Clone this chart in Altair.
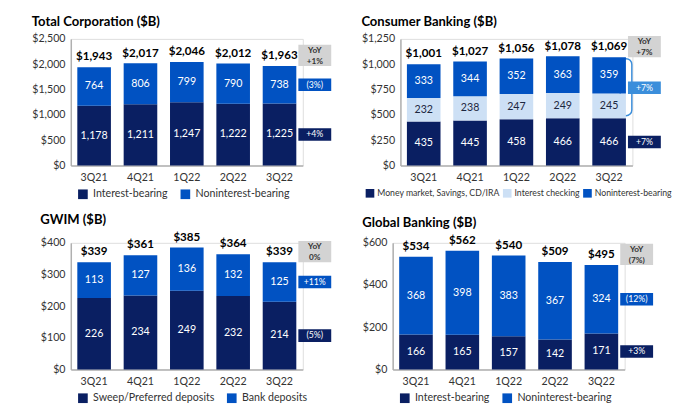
import altair as alt
import pandas as pd

quarters = ["3Q21", "4Q21", "1Q22", "2Q22", "3Q22"]

# Total Corporation
tc_names = ["Interest-bearing", "Noninterest-bearing"]
tc_interest = [1178, 1211, 1247, 1222, 1225]
tc_nonint = [764, 806, 799, 790, 738]
tc_total = [1943, 2017, 2046, 2012, 1963]
tc_yoy_total = "+1%"
tc_yoy_seg = ["+4%", "(3%)"]

# Consumer Banking
cb_names = ["Money market, Savings, CD/IRA", "Interest checking", "Noninterest-bearing"]
cb_mm = [435, 445, 458, 466, 466]
cb_ic = [232, 238, 247, 249, 245]
cb_ni = [333, 344, 352, 363, 359]
cb_total = [1001, 1027, 1056, 1078, 1069]
cb_yoy_total = "+7%"
cb_yoy_seg = ["+7%", "+7%"]  # bottom segment, combined upper segments

# GWIM
gw_names = ["Sweep/Preferred deposits", "Bank deposits"]
gw_sweep = [226, 234, 249, 232, 214]
gw_bank = [113, 127, 136, 132, 125]
gw_total = [339, 361, 385, 364, 339]
gw_yoy_total = "0%"
gw_yoy_seg = ["(5%)", "+11%"]

# Global Banking
gb_names = ["Interest-bearing", "Noninterest-bearing"]
gb_int = [166, 165, 157, 142, 171]
gb_ni = [368, 398, 383, 367, 324]
gb_total = [534, 562, 540, 509, 495]
gb_yoy_total = "(7%)"
gb_yoy_seg = ["+3%", "(12%)"]

NAVY = "#0a1f62"
BLUE = "#0152c2"
LIGHT = "#cde0f5"
MID = "#3b8edb"
GRAY = "#d3d3d3"
DARKTXT = "#1d2740"
FONT = "Lato"

W, H = 240, 131
BOX_OFF = 36.5


def panel(title, names, series, colors, text_colors, totals, ymax, ystep,
          yoy_total, seg_groups, seg_labels, seg_colors, legend_kw, bracket=False):
    rows = []
    for i, q in enumerate(quarters):
        base = 0
        for k, name in enumerate(names):
            v = series[k][i]
            rows.append(dict(q=q, s=name, v=v, lo=base, hi=base + v,
                             mid=base + v / 2, tc=text_colors[k], lab=f"{v:,}"))
            base += v
    df = pd.DataFrame(rows)
    tot = pd.DataFrame(dict(q=quarters, t=totals, lab=[f"${t:,}" for t in totals]))
    last = df[df.q == quarters[-1]].reset_index(drop=True)

    boxes = []
    for g, lab, col in zip(seg_groups, seg_labels, seg_colors):
        lo = last.loc[g[0], "lo"]
        hi = last.loc[g[-1], "hi"]
        boxes.append(dict(q=quarters[-1], c=(lo + hi) / 2, lab=lab, col=col, blo=lo, bhi=hi))
    bx = pd.DataFrame(boxes)
    yoy = pd.DataFrame(dict(q=[quarters[-1]], t=[totals[-1]], h="YoY", lab=[yoy_total]))

    x = alt.X("q:N", sort=quarters,
              scale=alt.Scale(domain=quarters, paddingInner=0.275, paddingOuter=0.14),
              axis=alt.Axis(title=None, labelAngle=0, ticks=False, domainColor="#b0b0b0",
                            domainWidth=1.5, labelColor="#333333", labelFontSize=11,
                            labelPadding=7, labelFont=FONT))
    yscale = alt.Scale(domain=[0, ymax], nice=False)
    yaxis = alt.Axis(title=None, values=list(range(0, ymax + 1, ystep)), format="$,d",
                     grid=False, ticks=False, domainColor="#b0b0b0", domainWidth=1.5,
                     labelColor="#333333", labelFontSize=11, labelPadding=6,
                     labelFont=FONT, labelOverlap=False)

    def Y(field):
        return alt.Y(field, scale=yscale, axis=yaxis)

    layers = []
    if bracket:
        br = bx.iloc[[-1]].copy()
        br["blo2"] = br["blo"] + 0.02 * ymax
        br["bhi2"] = br["bhi"] - 0.012 * ymax
        layers.append(alt.Chart(br).mark_bar(width=12, xOffset=17.5, fillOpacity=0,
                                             stroke=MID, strokeWidth=1.5, cornerRadius=6)
                      .encode(x=x, y=Y("blo2:Q"), y2="bhi2:Q"))

    bars = alt.Chart(df).mark_bar().encode(
        x=x,
        y=Y("lo:Q"),
        y2="hi:Q",
        color=alt.Color("s:N", scale=alt.Scale(domain=names, range=colors),
                        legend=alt.Legend(title=None, orient="none", direction="horizontal",
                                          symbolType="square", symbolStrokeWidth=0,
                                          labelColor="#333333", labelFont=FONT, padding=0,
                                          **legend_kw)),
    )
    layers.append(bars)
    seg_text = alt.Chart(df).mark_text(fontSize=11, font=FONT).encode(
        x=x, y=Y("mid:Q"), text="lab:N",
        color=alt.Color("tc:N", scale=None))
    layers.append(seg_text)
    tot_text = alt.Chart(tot).mark_text(fontSize=12, fontWeight="bold", font=FONT,
                                        baseline="bottom", dy=-4, color="#000000").encode(
        x=x, y=Y("t:Q"), text="lab:N")
    layers.append(tot_text)
    yoy_box = alt.Chart(yoy).mark_tick(orient="horizontal", size=34, thickness=22,
                                        xOffset=BOX_OFF, yOffset=-11, color=GRAY,
                                        opacity=1).encode(x=x, y=Y("t:Q"))
    yoy_h = alt.Chart(yoy).mark_text(fontSize=8.5, fontWeight="bold", font=FONT,
                                     xOffset=BOX_OFF, yOffset=-16.5, baseline="middle",
                                     color="#333333").encode(
        x=x, y=Y("t:Q"), text="h:N")
    yoy_v = alt.Chart(yoy).mark_text(fontSize=8.5, fontWeight="bold", font=FONT,
                                     xOffset=BOX_OFF, yOffset=-5.5, baseline="middle",
                                     color="#333333").encode(
        x=x, y=Y("t:Q"), text="lab:N")
    seg_box = alt.Chart(bx).mark_tick(orient="horizontal", size=34, thickness=13,
                                      xOffset=BOX_OFF, opacity=1).encode(
        x=x, y=Y("c:Q"), color=alt.Color("col:N", scale=None))
    seg_txt = alt.Chart(bx).mark_text(fontSize=9, font=FONT, xOffset=BOX_OFF,
                                      color="#ffffff").encode(
        x=x, y=Y("c:Q"), text="lab:N")
    layers += [yoy_box, yoy_h, yoy_v, seg_box, seg_txt]

    return alt.layer(*layers).properties(
        width=W, height=H,
        title=alt.Title(title, anchor="start", fontSize=13.5, fontWeight="bold",
                        font=FONT, color="#000000", offset=5))


leg_big = dict(legendX=7, legendY=H + 24, symbolSize=100, labelFontSize=11,
               labelOffset=5, columnPadding=12)
leg_small = dict(legendX=-36, legendY=H + 24, symbolSize=80, labelFontSize=9,
                 labelOffset=3, columnPadding=3)

p1 = panel("Total Corporation ($B)", tc_names, [tc_interest, tc_nonint], [NAVY, BLUE],
           ["#ffffff", "#ffffff"], tc_total, 2500, 500, tc_yoy_total,
           [[0], [1]], tc_yoy_seg, [NAVY, BLUE], leg_big)
p2 = panel("Consumer Banking ($B)", cb_names, [cb_mm, cb_ic, cb_ni], [NAVY, LIGHT, BLUE],
           ["#ffffff", DARKTXT, "#ffffff"], cb_total, 1250, 250, cb_yoy_total,
           [[0], [1, 2]], cb_yoy_seg, [NAVY, MID], leg_small, bracket=True)
p3 = panel("GWIM ($B)", gw_names, [gw_sweep, gw_bank], [NAVY, BLUE],
           ["#ffffff", "#ffffff"], gw_total, 400, 100, gw_yoy_total,
           [[0], [1]], gw_yoy_seg, [NAVY, BLUE], leg_big)
p4 = panel("Global Banking ($B)", gb_names, [gb_int, gb_ni], [NAVY, BLUE],
           ["#ffffff", "#ffffff"], gb_total, 600, 200, gb_yoy_total,
           [[0], [1]], gb_yoy_seg, [NAVY, BLUE], leg_big)

row1 = alt.hconcat(p1, p2, spacing=30).resolve_scale(color="independent", x="independent", y="independent")
row2 = alt.hconcat(p3, p4, spacing=30).resolve_scale(color="independent", x="independent", y="independent")
chart = (alt.vconcat(row1, row2, spacing=12)
         .resolve_scale(color="independent", x="independent", y="independent")
         .properties(padding={"left": 24, "top": 0, "right": 0, "bottom": 0})
         .configure_view(stroke=None)
         .configure(font=FONT))

chart.save("out.html", embed_options={"renderer": "svg", "actions": False})
